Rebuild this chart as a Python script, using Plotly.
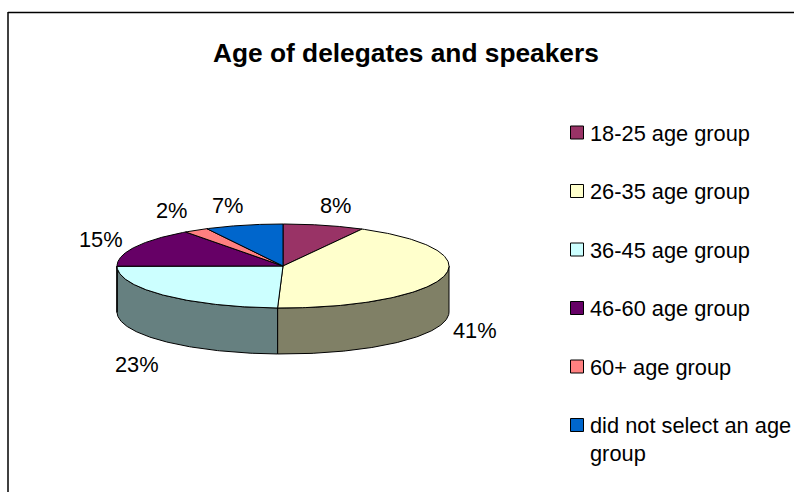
import numpy as np
import plotly.graph_objects as go

categories = ["18-25 age group", "26-35 age group", "36-45 age group",
              "46-60 age group", "60+ age group", "did not select an age<br>group"]
values = [7.6, 41.0, 23.4, 14.6, 2.3, 7.3]
top_colors = ["#993366", "#FFFFCC", "#CCFFFF", "#660066", "#FF8080", "#0066CC"]
side_colors = ["#4D1A33", "#808066", "#668080", "#330033", "#804040", "#003366"]
title = "Age of delegates and speakers"

# Drawing geometry (pixels of the 794x492 page)
W, H = 794, 492
CX, CY, RX, RY, DEPTH = 283, 266, 166, 42, 46
LABEL_XY = [(336, 205), (475, 330), (137, 364), (101, 239), (172, 210), (228, 205)]
LEGEND_TOP, LEGEND_STEP = 132.5, 58.5
LEGEND_BOX_X, LEGEND_TEXT_X = 577, 590
FONT = "Liberation Sans, Arial, sans-serif"
TEXT_SIZE = 21.8


def ellipse(a_deg, dy=0.0):
    a = np.radians(a_deg)
    return CX + RX * np.sin(a), CY - RY * np.cos(a) + dy


fig = go.Figure()
edges = 360 * np.concatenate([[0], np.cumsum(values)]) / sum(values)
LINE = dict(color="black", width=1)

# Walls first: only the front half of the cylinder (clock angles 90-270) shows
for i, col in enumerate(side_colors):
    a0, a1 = max(edges[i], 90), min(edges[i + 1], 270)
    if a1 <= a0:
        continue
    t = np.linspace(a0, a1, 120)
    x_top, y_top = ellipse(t)
    x_bot, y_bot = ellipse(t[::-1], DEPTH)
    fig.add_trace(go.Scatter(
        x=np.r_[x_top, x_bot, x_top[0]], y=np.r_[y_top, y_bot, y_top[0]],
        mode="lines", fill="toself", fillcolor=col, line=LINE,
        hoverinfo="skip", showlegend=False))

# Top faces
for i, col in enumerate(top_colors):
    t = np.linspace(edges[i], edges[i + 1], 160)
    x, y = ellipse(t)
    fig.add_trace(go.Scatter(
        x=np.r_[CX, x, CX], y=np.r_[CY, y, CY],
        mode="lines", fill="toself", fillcolor=col, line=LINE,
        name=categories[i], hoverinfo="name", showlegend=False))

# Legend keys
fig.add_trace(go.Scatter(
    x=[LEGEND_BOX_X] * len(categories),
    y=[LEGEND_TOP + LEGEND_STEP * i for i in range(len(categories))],
    mode="markers",
    marker=dict(symbol="square", size=13, color=top_colors,
                line=dict(color="black", width=1)),
    hoverinfo="skip", showlegend=False))

ann = []
for v, (x, y) in zip(values, LABEL_XY):
    ann.append(dict(x=x, y=y, text=f"{round(v)}%", showarrow=False,
                    xanchor="center", yanchor="middle",
                    font=dict(family=FONT, size=TEXT_SIZE, color="black")))
for i, c in enumerate(categories):
    ann.append(dict(x=LEGEND_TEXT_X, y=LEGEND_TOP + LEGEND_STEP * i - 14,
                    text=c, showarrow=False, xanchor="left", yanchor="top",
                    align="left", xshift=-2, yshift=0,
                    font=dict(family=FONT, size=TEXT_SIZE, color="black")))
ann.append(dict(x=405.5, y=53, text=f"<b>{title}</b>", showarrow=False,
                xanchor="center", yanchor="middle",
                font=dict(family=FONT, size=26.3, color="black")))

shapes = [
    dict(type="line", x0=8, x1=W, y0=12.5, y1=12.5, line=dict(color="black", width=1.5)),
    dict(type="line", x0=8, x1=8, y0=12, y1=H, line=dict(color="black", width=1.5)),
]

fig.update_layout(
    width=W, height=H, margin=dict(l=0, r=0, t=0, b=0),
    paper_bgcolor="white", plot_bgcolor="white",
    xaxis=dict(range=[0, W], visible=False, fixedrange=True),
    yaxis=dict(range=[H, 0], visible=False, fixedrange=True),
    annotations=ann, shapes=shapes,
)
fig.write_html("out.html", config=dict(displayModeBar=False),
               post_script="document.documentElement.style.margin='0';"
                           "document.body.style.margin='0';"
                           "document.body.style.overflow='hidden';")
